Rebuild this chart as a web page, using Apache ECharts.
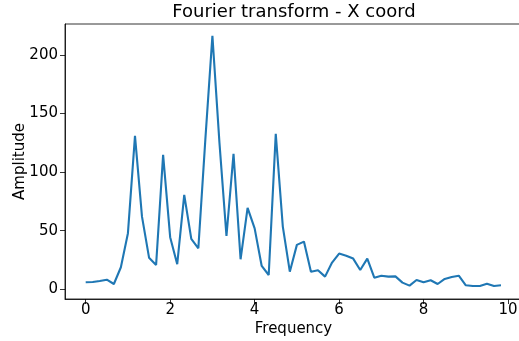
<!DOCTYPE html>
<html>
<head>
<meta charset="utf-8">
<style>
  html, body { margin: 0; padding: 0; background: #fff; }
  #chart { width: 519px; height: 341px; }
</style>
<script src="https://cdn.jsdelivr.net/npm/echarts@6/dist/echarts.min.js"></script>
</head>
<body>
<div id="chart"></div>
<script>
// Frequency bins of the spectrum
const frequencies = [
  0.000, 0.167, 0.333, 0.500, 0.667, 0.833, 1.000, 1.167, 1.333, 1.500,
  1.667, 1.833, 2.000, 2.167, 2.333, 2.500, 2.667, 2.833, 3.000, 3.167,
  3.333, 3.500, 3.667, 3.833, 4.000, 4.167, 4.333, 4.500, 4.667, 4.833,
  5.000, 5.167, 5.333, 5.500, 5.667, 5.833, 6.000, 6.167, 6.333, 6.500,
  6.667, 6.833, 7.000, 7.167, 7.333, 7.500, 7.667, 7.833, 8.000, 8.167,
  8.333, 8.500, 8.667, 8.833, 9.000, 9.167, 9.333, 9.500, 9.667, 9.833
];

// Amplitude of the X coordinate's transform at each bin
const amplitudes = [
  6.0, 6.2, 7.1, 8.2, 4.5, 18.8, 47.9, 131.0, 62.0, 27.0,
  20.8, 114.8, 44.5, 21.4, 80.6, 43.0, 35.0, 128.0, 216.5, 125.0,
  45.5, 115.6, 25.6, 69.5, 52.0, 19.9, 12.2, 132.7, 53.5, 15.0,
  37.9, 40.7, 15.0, 16.2, 10.8, 22.8, 30.5, 28.7, 26.2, 16.5,
  26.2, 9.9, 11.6, 10.8, 11.0, 5.7, 3.1, 7.9, 6.0, 7.7,
  4.5, 8.8, 10.5, 11.6, 3.4, 2.8, 2.8, 4.8, 2.8, 3.4
];

const xTicks = [0, 2, 4, 6, 8, 10];
const yTicks = [0, 50, 100, 150, 200];

const FONT = 'DejaVu Sans';
const chart = echarts.init(document.getElementById('chart'), null, { renderer: 'canvas' });

chart.setOption({
  animation: false,
  backgroundColor: '#ffffff',
  title: {
    text: 'Fourier transform - X coord',
    left: 294,
    textAlign: 'center',
    top: 3,
    padding: 0,
    textStyle: { fontFamily: FONT, fontSize: 18, fontWeight: 'normal', color: '#000' }
  },
  grid: {
    left: 65, top: 24, width: 457, height: 275,
    outerBoundsMode: 'none',
    containLabel: false,
    show: true, borderColor: '#000', borderWidth: 0.8, backgroundColor: 'transparent'
  },
  xAxis: {
    type: 'value',
    min: -0.49, max: 10.33,
    name: 'Frequency',
    nameLocation: 'middle',
    nameGap: 23,
    nameMoveOverlap: false,
    nameTextStyle: { fontFamily: FONT, fontSize: 15, color: '#000' },
    axisLine: { show: true, onZero: false, lineStyle: { color: '#000', width: 0.8 } },
    axisTick: { show: true, length: 5, inside: false, customValues: xTicks, lineStyle: { color: '#000', width: 0.8 } },
    axisLabel: { customValues: xTicks, margin: 4, fontFamily: FONT, fontSize: 15, color: '#000' },
    splitLine: { show: false }
  },
  yAxis: {
    type: 'value',
    min: -8.3, max: 226.5,
    name: 'Amplitude',
    nameLocation: 'middle',
    nameGap: 37,
    nameMoveOverlap: false,
    nameTextStyle: { fontFamily: FONT, fontSize: 15, color: '#000' },
    axisLine: { show: true, onZero: false, lineStyle: { color: '#000', width: 0.8 } },
    axisTick: { show: true, length: 5, inside: false, customValues: yTicks, lineStyle: { color: '#000', width: 0.8 } },
    axisLabel: { customValues: yTicks, margin: 7, fontFamily: FONT, fontSize: 15, color: '#000' },
    splitLine: { show: false }
  },
  series: [{
    type: 'line',
    data: frequencies.map((f, i) => [f, amplitudes[i]]),
    showSymbol: false,
    symbol: 'none',
    lineStyle: { color: '#1f77b4', width: 2.1 },
    itemStyle: { color: '#1f77b4' }
  }]
});
</script>
</body>
</html>
